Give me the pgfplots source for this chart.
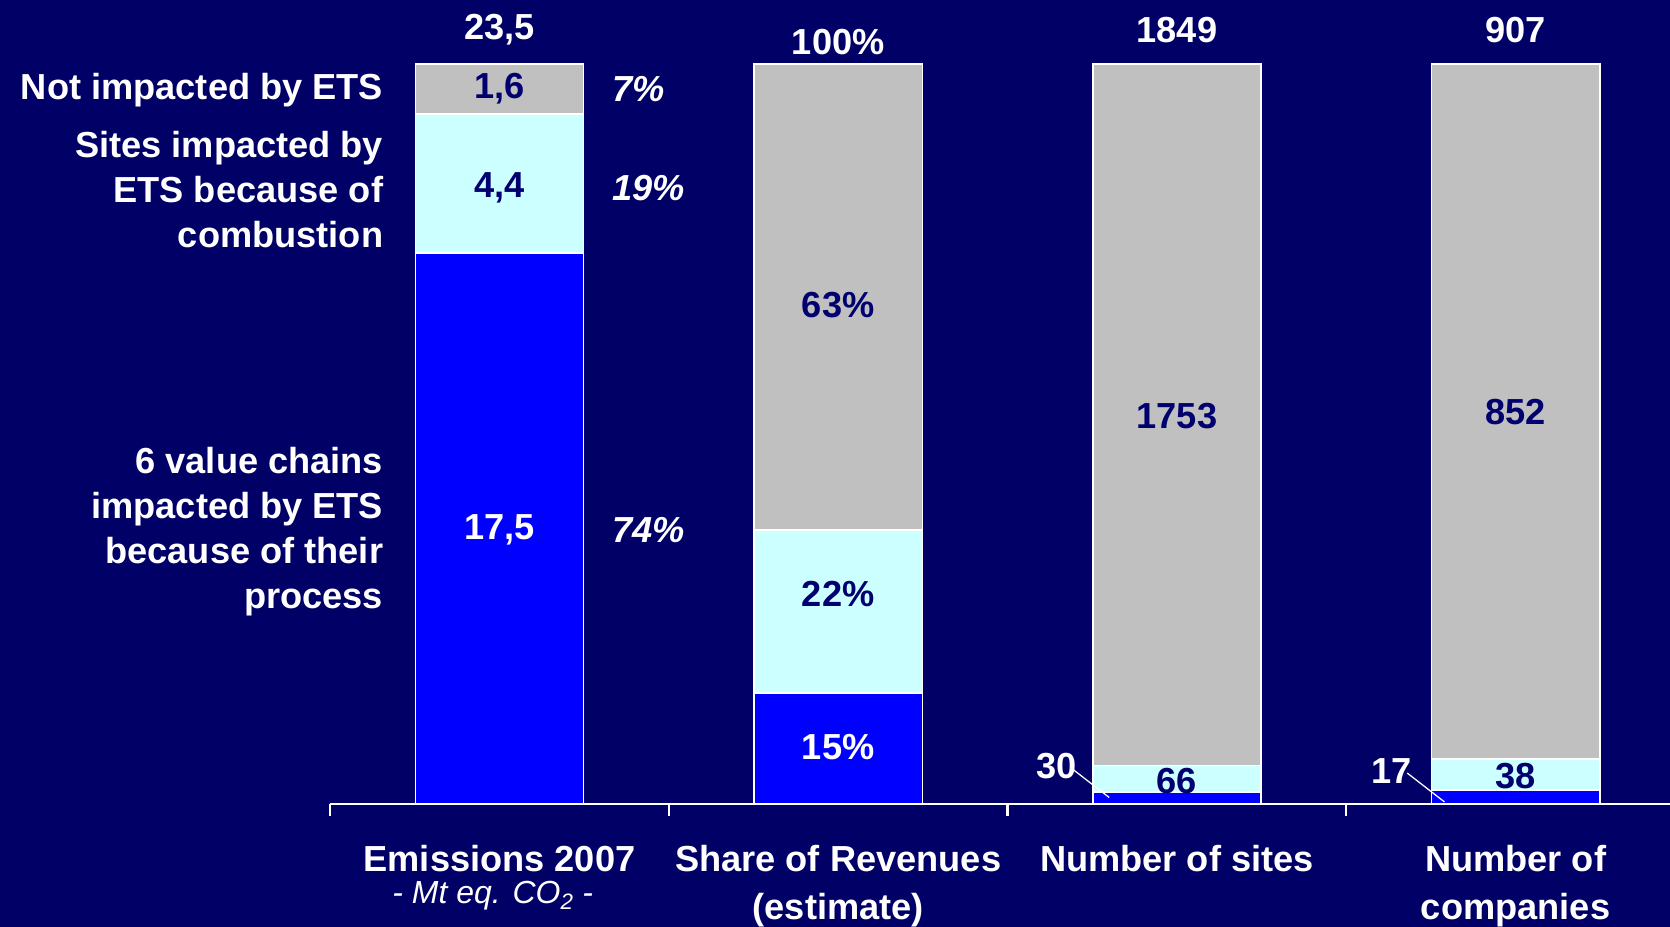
\documentclass[border=0pt]{standalone}
\usepackage{fontspec}
\setmainfont{Liberation Sans}
\usepackage{pgfplots}
\pgfplotsset{compat=1.18}
\usepackage{pgfplotstable}
\definecolor{bg}{RGB}{0,0,102}
\definecolor{barblue}{RGB}{0,0,255}
\definecolor{barcyan}{RGB}{204,255,255}
\definecolor{bargray}{RGB}{192,192,192}
\definecolor{darktxt}{RGB}{0,0,110}
\newcommand\bigf{\fontsize{34bp}{42bp}\selectfont\bfseries}
\newcommand\smallf{\fontsize{30bp}{36bp}\selectfont\mdseries\itshape}

% shares of each bar, in percent of the bar's total
% emissions: 17.5 / 4.4 / 1.6 of 23.5 ; revenues 15/22/63 ; sites 30/66/1753 of 1849 ; companies 17/38/852 of 907
\pgfplotstableread{
x blue cyan gray
0 74.47 18.72 6.81
1 15 22 63
2 1.62 3.57 94.81
3 1.87 4.19 93.94
}\data

\begin{document}
\begin{tikzpicture}[x=1bp,y=1bp, every node/.append style={font=\bigf, text=white, inner sep=0pt}]
\path[use as bounding box] (0,0) rectangle (1568,870);
\fill[bg] (0,0) rectangle (1568,870);
\begin{axis}[
  at={(310bp,115bp)}, anchor=south west,
  scale only axis, width=1258bp, height=695bp,
  xmin=-0.5, xmax=3.456, ymin=0, ymax=100,
  ybar stacked, bar width=158bp,
  axis x line*=bottom, axis y line=none,
  x axis line style={white, line width=2bp, -},
  xtick={-0.5,0.5,1.5,2.5}, xticklabels={}, xtick align=outside,
  major tick length=11bp, xtick style={white, line width=2bp},
  ytick=\empty,
  clip=false,
  every axis plot/.append style={draw=white, line width=1.5bp},
]
\addplot[fill=barblue] table[x=x, y=blue] {\data};
\addplot[fill=barcyan] table[x=x, y=cyan] {\data};
\addplot[fill=bargray] table[x=x, y=gray] {\data};

% label positions in axis units
\coordinate (t0) at (axis cs:0,104.6);
\coordinate (t1) at (axis cs:1,103.0);
\coordinate (t2) at (axis cs:2,104.6);
\coordinate (t3) at (axis cs:3,104.6);
\coordinate (a1) at (axis cs:0,96.6);
\coordinate (a2) at (axis cs:0,83.3);
\coordinate (a3) at (axis cs:0,37.0);
\coordinate (b1) at (axis cs:1,67.4);
\coordinate (b2) at (axis cs:1,28.4);
\coordinate (b3) at (axis cs:1,7.7);
\coordinate (c1) at (axis cs:2,52.4);
\coordinate (c2) at (axis cs:2,3.1);
\coordinate (d1) at (axis cs:3,52.9);
\coordinate (d2) at (axis cs:3,3.8);
\coordinate (c3) at (axis cs:1.645,5.2);
\coordinate (d3) at (axis cs:2.635,4.5);
\coordinate (l1s) at (axis cs:1.69,4.8);
\coordinate (l1e) at (axis cs:1.80,0.9);
\coordinate (l2s) at (axis cs:2.68,4.2);
\coordinate (l2e) at (axis cs:2.79,0.3);
\coordinate (p1) at (axis cs:0.333,96.6);
\coordinate (p2) at (axis cs:0.333,83.2);
\coordinate (p3) at (axis cs:0.333,37.0);
\coordinate (s1) at (axis cs:-0.343,96.5);
\coordinate (s2) at (axis cs:-0.343,83.0);
\coordinate (s3) at (axis cs:-0.343,36.8);
\coordinate (k0) at (axis cs:0,-7.4);
\coordinate (k0b) at (axis cs:-0.02,-12.3);
\coordinate (k1) at (axis cs:1,-7.4);
\coordinate (k1b) at (axis cs:1,-14.3);
\coordinate (k2) at (axis cs:2,-7.4);
\coordinate (k3) at (axis cs:3,-7.4);
\coordinate (k3b) at (axis cs:3,-14.3);
\end{axis}

% totals
\node at (t0) {23,5};
\node at (t1) {100\%};
\node at (t2) {1849};
\node at (t3) {907};

% segment values
\node[text=darktxt] at (a1) {1,6};
\node[text=darktxt] at (a2) {4,4};
\node at (a3) {17,5};
\node[text=darktxt] at (b1) {63\%};
\node[text=darktxt] at (b2) {22\%};
\node at (b3) {15\%};
\node[text=darktxt] at (c1) {1753};
\node[text=darktxt] at (c2) {66};
\node[text=darktxt] at (d1) {852};
\node[text=darktxt] at (d2) {38};
\node at (c3) {30};
\node at (d3) {17};
\draw[white, line width=1.2bp] (l1s) -- (l1e);
\draw[white, line width=1.2bp] (l2s) -- (l2e);

% percentages beside bar 1
\node[anchor=west, font=\bigf\itshape] at (p1) {7\%};
\node[anchor=west, font=\bigf\itshape] at (p2) {19\%};
\node[anchor=west, font=\bigf\itshape] at (p3) {74\%};

% left labels
\node[anchor=east, align=right] at (s1) {Not impacted by ETS};
\node[anchor=east, align=right] at (s2) {Sites impacted by\\ETS because of\\combustion};
\node[anchor=east, align=right] at (s3) {6 value chains\\impacted by ETS\\because of their\\process};

% category labels
\node at (k0) {Emissions 2007};
\node[font=\smallf] at (k0b) {- Mt eq. CO\textsubscript{2} -};
\node at (k1) {Share of Revenues};
\node at (k1b) {(estimate)};
\node at (k2) {Number of sites};
\node at (k3) {Number of};
\node at (k3b) {companies};
\end{tikzpicture}
\end{document}
